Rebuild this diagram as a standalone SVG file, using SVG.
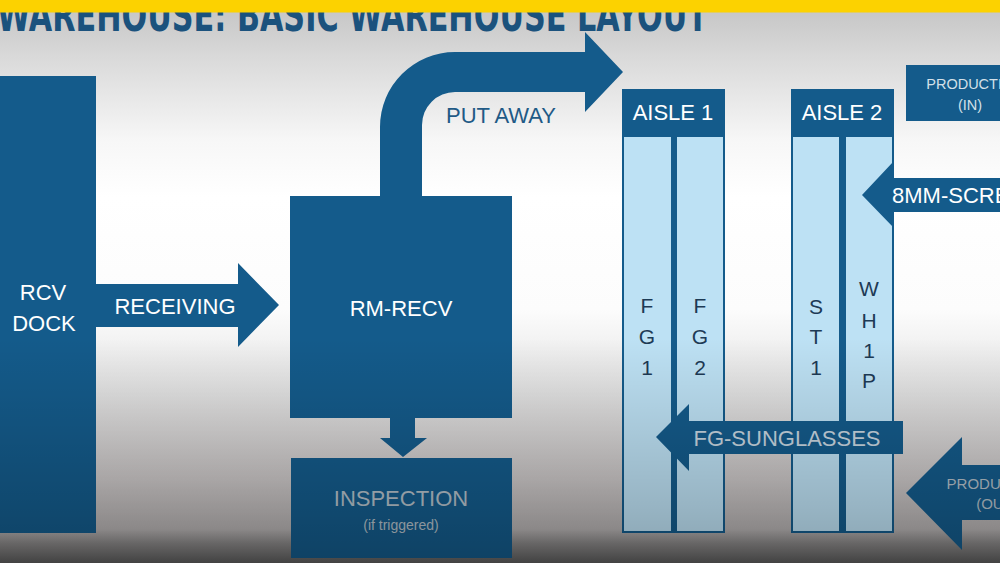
<svg xmlns="http://www.w3.org/2000/svg" width="1000" height="563" viewBox="0 0 1000 563">
  <defs>
    <linearGradient id="bg" x1="0" y1="0" x2="0" y2="563" gradientUnits="userSpaceOnUse">
      <stop offset="0" stop-color="#c2c2c2"/>
      <stop offset="0.1" stop-color="#d9d9d9"/>
      <stop offset="0.25" stop-color="#f7f7f7"/>
      <stop offset="0.35" stop-color="#ffffff"/>
      <stop offset="0.55" stop-color="#fcfcfc"/>
      <stop offset="0.7" stop-color="#e2e2e2"/>
      <stop offset="0.85" stop-color="#cbc7c7"/>
      <stop offset="0.94" stop-color="#b5b1b1"/>
      <stop offset="0.965" stop-color="#8a8888"/>
      <stop offset="1" stop-color="#5c5c5c"/>
    </linearGradient>
    <linearGradient id="shade" x1="0" y1="0" x2="0" y2="563" gradientUnits="userSpaceOnUse">
      <stop offset="0.6" stop-color="#000" stop-opacity="0"/>
      <stop offset="0.75" stop-color="#000" stop-opacity="0.1"/>
      <stop offset="0.9" stop-color="#000" stop-opacity="0.2"/>
      <stop offset="1" stop-color="#000" stop-opacity="0.28"/>
    </linearGradient>
  </defs>
  <style>
    .blue { fill: #145b8b; }
    .light { fill: #bde1f4; }
    .t { font-family: "Liberation Sans", Arial, sans-serif; fill: #ffffff; text-anchor: middle; }
    .big { font-size: 22px; }
    .dim { fill: #b4c0c9; }
    .small { font-size: 15px; }
    .letter { font-family: "Liberation Sans", Arial, sans-serif; font-size: 21px; fill: #1d3a55; text-anchor: middle; }
  </style>

  <rect x="0" y="0" width="1000" height="563" fill="url(#bg)"/>

  <g id="title">
    <text x="-3" y="31" font-family="'DejaVu Sans Condensed', 'DejaVu Sans', sans-serif" font-weight="bold" font-size="44" fill="#1b527d" textLength="711" lengthAdjust="spacingAndGlyphs">WAREHOUSE: BASIC WAREHOUSE LAYOUT</text>
    <rect x="0" y="0" width="1000" height="12.5" fill="#fcd200"/>
  </g>

  <g id="connectors">
    <g id="receiving">
      <path class="blue" d="M96,284 H238 V263 L279,305 L238,347 V327 H96 Z"/>
      <text class="t big" x="175" y="314">RECEIVING</text>
    </g>
    <g id="putaway">
      <path class="blue" d="M380,196 V127 A75,75 0 0 1 455,52 H585 V32 L623,72 L585,112 V92 H455 A33,33 0 0 0 422,125 V196 Z"/>
      <text class="t big" x="501" y="123" style="fill:#1f5a86">PUT AWAY</text>
    </g>
    <g id="to-inspection">
      <path class="blue" d="M390,418 H415 V438 H427 L403,457 L380,438 H390 Z"/>
    </g>
    <g id="prod-out">
      <path class="blue" d="M1010,465 H962 V437 L906,493 L962,550 V520 H1010 Z"/>
      <text class="t small dim" x="997" y="489">PRODUCTION</text>
      <text class="t small dim" x="997" y="509">(OUT)</text>
    </g>
  </g>

  <g id="rcv-dock">
    <rect class="blue" x="0" y="76" width="96" height="457"/>
    <text class="t big" x="43" y="300">RCV</text>
    <text class="t big" x="44" y="331">DOCK</text>
  </g>

  <g id="rm-recv">
    <rect class="blue" x="290" y="196" width="222" height="222"/>
    <text class="t big" x="401" y="316">RM-RECV</text>
  </g>

  <g id="inspection">
    <rect class="blue" x="291" y="458" width="221" height="100"/>
    <text class="t big dim" x="401" y="506">INSPECTION</text>
    <text class="t dim" x="401" y="530" font-size="14">(if triggered)</text>
  </g>

  <g id="aisle1">
    <rect class="blue" x="622" y="89" width="103" height="444"/>
    <rect class="light" x="624" y="137" width="47" height="394"/>
    <rect class="light" x="677" y="137" width="46" height="394"/>
    <text class="t big" x="673" y="120">AISLE 1</text>
    <text class="letter" x="647" y="313">F</text>
    <text class="letter" x="647" y="344">G</text>
    <text class="letter" x="647" y="375">1</text>
    <text class="letter" x="700" y="313">F</text>
    <text class="letter" x="700" y="344">G</text>
    <text class="letter" x="700" y="375">2</text>
  </g>

  <g id="aisle2">
    <rect class="blue" x="791" y="89" width="103" height="444"/>
    <rect class="light" x="793" y="137" width="46" height="394"/>
    <rect class="light" x="846" y="137" width="46" height="394"/>
    <text class="t big" x="842" y="120">AISLE 2</text>
    <text class="letter" x="816" y="314">S</text>
    <text class="letter" x="816" y="344">T</text>
    <text class="letter" x="816" y="375">1</text>
    <text class="letter" x="869" y="296">W</text>
    <text class="letter" x="869" y="328">H</text>
    <text class="letter" x="869" y="358">1</text>
    <text class="letter" x="869" y="388">P</text>
  </g>

  <g id="screws">
    <path class="blue" d="M1000,178 H893 V162 L862,195 L893,227 V212 H1000 Z"/>
    <text class="t big" x="892" y="203" style="text-anchor:start">8MM-SCREWS</text>
  </g>

  <g id="sunglasses">
    <path class="blue" d="M903,421 H689 V404 L656,437 L689,471 V454 H903 Z"/>
    <text class="t big" x="787" y="446" style="fill:#c8d6e0">FG-SUNGLASSES</text>
  </g>

  <g id="production-in">
    <rect class="blue" x="906" y="65" width="100" height="56"/>
    <text class="t" x="975" y="89" font-size="14.5" style="fill:#d3e0e8">PRODUCTION</text>
    <text class="t" x="970" y="110" font-size="14.5" style="fill:#d3e0e8">(IN)</text>
  </g>

  <rect x="0" y="0" width="1000" height="563" fill="url(#shade)" pointer-events="none"/>
</svg>
